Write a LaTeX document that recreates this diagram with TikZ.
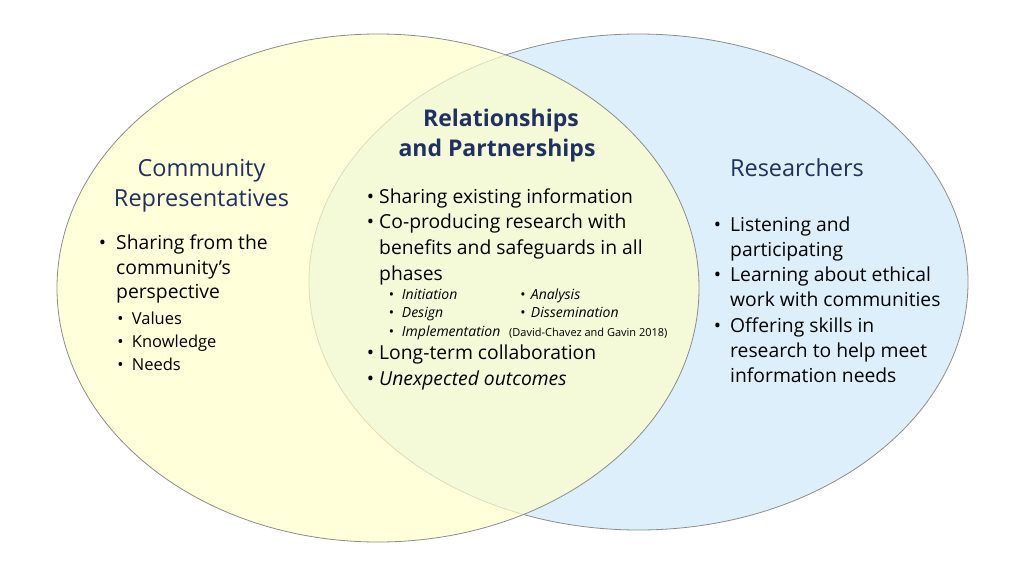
\documentclass[tikz,border=0pt]{standalone}
\usepackage{fontspec}
\setmainfont{Open Sans}
\usetikzlibrary{positioning}
\definecolor{vennyellow}{HTML}{FFFFC9}
\definecolor{vennblue}{HTML}{DDEFFA}
\definecolor{venngray}{HTML}{8C8C8C}
\definecolor{navy}{HTML}{1F3062}
\tikzset{
  head/.style={text=navy, anchor=base, inner sep=0pt, font=\fontsize{23.5}{30}\selectfont},
  bighead/.style={head, font=\fontsize{23}{30}\selectfont\bfseries},
  item/.style={anchor=base west, inner sep=0pt, font=\fontsize{19.3}{25}\selectfont},
  subitem/.style={item, font=\fontsize{16.5}{23}\selectfont},
  phase/.style={item, font=\fontsize{14}{18}\selectfont\itshape},
  cite/.style={item, font=\fontsize{11}{12}\selectfont},
  dot/.style={anchor=base, inner sep=0pt}
}

\begin{document}
\begin{tikzpicture}[x=1pt, y=-1pt]
\useasboundingbox (0,0) rectangle (1024,576);
\fill[white] (0,0) rectangle (1024,576);

% the two circles
\draw[venngray, fill=vennblue, line width=0.8pt] (638.5,282) ellipse [x radius=329.5, y radius=248];
\fill[vennyellow, fill opacity=0.7] (378,288) ellipse [x radius=321, y radius=254];
\draw[venngray, line width=0.8pt] (378,288) ellipse [x radius=321, y radius=254];

% headings
\node[bighead] (rel1) at (501,126.7) {Relationships};
\node[bighead] (rel2) at (497,156.7) {and Partnerships};
\node[head] (com1) at (201.5,176.7) {Community};
\node[head] (com2) at (201.5,206) {Representatives};
\node[head] (res) at (797,176.7) {Researchers};

% community side
\node[item, dot] (cba) at (102.5,249.3) {•};
\foreach \n/\y/\t in {a/249.3/Sharing from the, b/274/community’s, c/298.5/perspective}
  \node[item] (cl\n) at (116,\y) {\t};
\foreach \n/\y/\t in {a/324/Values, b/347/Knowledge, c/370/Needs} {
  \node[subitem, dot] (csb\n) at (120.5,\y) {•};
  \node[subitem] (cs\n) at (131.7,\y) {\t};
}

% shared part
\foreach \n/\y in {a/203, b/228.5, c/359.3, d/385} \node[item, dot] (mb\n) at (370.5,\y) {•};
\foreach \n/\y/\t in {a/203/Sharing existing information, b/228.5/Co-producing research with,
  c/254.5/benefits and safeguards in all, d/280/phases, e/359.3/Long-term collaboration}
  \node[item] (ml\n) at (379,\y) {\t};
\node[item] (mlf) at (379,385) {\itshape Unexpected outcomes};
\foreach \n/\y/\t in {a/299.3/Initiation, b/317.7/Design, c/336/Implementation} {
  \node[phase, dot] (pb\n) at (391.5,\y) {\upshape•};
  \node[phase] (p\n) at (401.7,\y) {\t};
}
\foreach \n/\y/\t in {d/299.3/Analysis, e/317.7/Dissemination} {
  \node[phase, dot] (pb\n) at (523,\y) {\upshape•};
  \node[phase] (p\n) at (530.7,\y) {\t};
}
\node[cite] (cit) at (509,336) {(David-Chavez and Gavin 2018)};

% researcher side
\foreach \n/\y in {a/231, b/281.6, c/332.2} \node[item, dot] (rb\n) at (717.5,\y) {•};
\foreach \n/\y/\t in {a/231/Listening and, b/256.3/participating, c/281.6/Learning about ethical,
  d/306.9/work with communities, e/332.2/Offering skills in, f/357.5/research to help meet,
  g/382.8/information needs}
  \node[item] (rl\n) at (730,\y) {\t};
\end{tikzpicture}
\end{document}
